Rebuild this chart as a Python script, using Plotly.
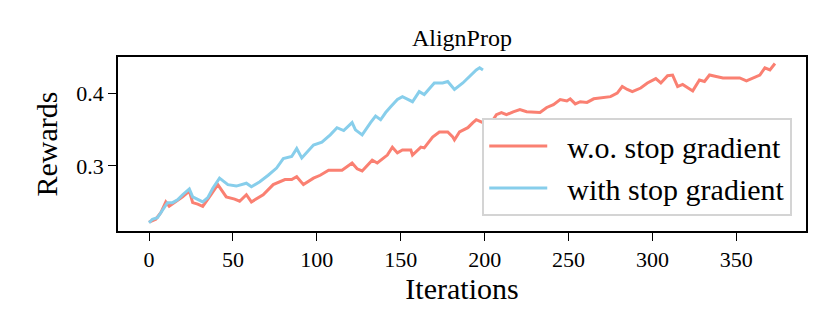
import plotly.graph_objects as go

# w.o. stop gradient (red)
red_x = [0, 4, 7, 10, 12, 15, 20, 24, 26, 29, 32, 36, 41, 46, 51, 54, 58, 61, 68, 74,
         81, 85, 88, 92, 98, 102, 107, 111, 115, 121, 124, 127, 133, 136, 142, 145, 148,
         151, 156, 157, 162, 164, 169, 173, 178, 181, 182, 185, 190, 193, 195, 199, 203,
         204, 207, 210, 213, 217, 221, 225, 229, 233, 237, 241, 245, 249, 251, 254, 257,
         261, 265, 269, 273, 275, 279, 282, 285, 288, 293, 297, 302, 305, 309, 312, 315,
         318, 324, 328, 331, 334, 338, 342, 346, 352, 356, 360, 364, 367, 370, 373]
red_y = [0.222, 0.226, 0.235, 0.250, 0.244, 0.249, 0.257, 0.265, 0.249, 0.247, 0.244,
         0.257, 0.274, 0.257, 0.254, 0.251, 0.260, 0.250, 0.260, 0.274, 0.281, 0.281,
         0.285, 0.274, 0.283, 0.287, 0.294, 0.294, 0.294, 0.304, 0.296, 0.293, 0.308,
         0.304, 0.315, 0.326, 0.318, 0.322, 0.322, 0.315, 0.326, 0.325, 0.340, 0.347,
         0.347, 0.340, 0.336, 0.347, 0.353, 0.360, 0.364, 0.360, 0.361, 0.360, 0.371,
         0.374, 0.371, 0.375, 0.378, 0.375, 0.375, 0.374, 0.381, 0.385, 0.392, 0.390,
         0.393, 0.386, 0.389, 0.388, 0.393, 0.394, 0.396, 0.396, 0.401, 0.410, 0.406,
         0.403, 0.408, 0.415, 0.421, 0.415, 0.425, 0.426, 0.410, 0.413, 0.404, 0.419,
         0.417, 0.426, 0.424, 0.422, 0.422, 0.422, 0.418, 0.422, 0.426, 0.436, 0.433,
         0.442]

# with stop gradient (blue)
blue_x = [0, 2, 5, 8, 11, 14, 17, 20, 24, 26, 29, 32, 35, 38, 42, 47, 52, 55, 58, 61,
          66, 71, 76, 80, 85, 88, 91, 98, 103, 108, 112, 116, 121, 123, 127, 132, 135,
          138, 141, 144, 148, 151, 154, 157, 161, 164, 170, 175, 178, 182, 187, 191,
          195, 197, 199]
blue_y = [0.221, 0.226, 0.228, 0.239, 0.249, 0.249, 0.253, 0.260, 0.268, 0.257, 0.254,
          0.250, 0.256, 0.269, 0.283, 0.274, 0.272, 0.274, 0.276, 0.271, 0.278, 0.287,
          0.297, 0.310, 0.313, 0.324, 0.311, 0.329, 0.333, 0.343, 0.353, 0.349, 0.360,
          0.350, 0.343, 0.360, 0.369, 0.364, 0.374, 0.382, 0.392, 0.396, 0.393, 0.389,
          0.403, 0.399, 0.415, 0.415, 0.417, 0.406, 0.415, 0.424, 0.433, 0.436, 0.433]

serif = "Liberation Serif, Times New Roman, serif"
pad = "\u00a0\u00a0"  # gap between legend line and label

fig = go.Figure()
fig.add_trace(go.Scatter(x=red_x, y=red_y, mode="lines", name=pad + "w.o. stop gradient",
                         line=dict(color="#FA8072", width=3)))
fig.add_trace(go.Scatter(x=blue_x, y=blue_y, mode="lines", name=pad + "with stop gradient",
                         line=dict(color="#87CEEB", width=3)))

axis_style = dict(showline=True, linecolor="black", linewidth=1.5, mirror=True,
                  showgrid=False, zeroline=False, ticks="outside", ticklen=8,
                  tickwidth=1.3, tickcolor="black",
                  tickfont=dict(family=serif, size=22, color="black"))

fig.update_layout(
    width=830, height=332,
    margin=dict(l=118, r=24, t=57, b=101),
    plot_bgcolor="white", paper_bgcolor="white",
    title=dict(text="AlignProp", x=0.5565, xanchor="center", y=0.886, yanchor="middle",
               font=dict(family=serif, size=24, color="black")),
    xaxis=dict(range=[-18.5, 391.5], tickvals=[0, 50, 100, 150, 200, 250, 300, 350],
               title=dict(text="Iterations", font=dict(family=serif, size=30, color="black"),
                          standoff=4),
               **axis_style),
    yaxis=dict(range=[0.2097, 0.451], tickvals=[0.3, 0.4],
               title=dict(text="Rewards", font=dict(family=serif, size=30, color="black"),
                          standoff=10),
               **axis_style),
    legend=dict(x=0.98, y=0.086, xanchor="right", yanchor="bottom",
                bgcolor="white", bordercolor="#d4d4d4", borderwidth=2,
                font=dict(family=serif, size=30, color="black"), itemwidth=58),
    showlegend=True,
)

fig.write_html("out.html", config={"displayModeBar": False},
               post_script="document.body.style.margin='0';")
